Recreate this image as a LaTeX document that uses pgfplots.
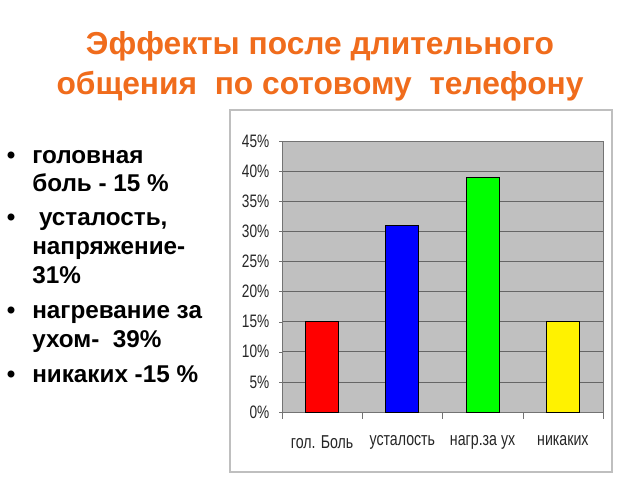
\documentclass[border=0pt]{standalone}
\usepackage{fontspec}
\setmainfont{Liberation Sans}
\newfontfamily\narrow[FakeStretch=0.76]{Liberation Sans}
\usepackage{pgfplots}
\pgfplotsset{compat=1.18}
\definecolor{titleorange}{RGB}{240,108,28}
\definecolor{plotgrey}{RGB}{192,192,192}
\begin{document}
\begin{tikzpicture}
\path[fill=white] (0,0) rectangle (480pt,-360pt);
% chart box
\draw[draw=black!25, line width=0.8pt, fill=white] (172.5pt,-82.5pt) rectangle (459pt,-354pt);
% title
\node[anchor=base, text=titleorange, font=\bfseries\fontsize{23.8}{28}\selectfont] at (240pt,-41pt) {Эффекты после длительного};
\node[anchor=base, text=titleorange, font=\bfseries\fontsize{23.8}{28}\selectfont] at (240pt,-71pt) {общения\ \ по сотовому\ \ телефону};
% bullets
\begin{scope}[every node/.style={anchor=base west, inner sep=0pt, font=\bfseries\fontsize{18.2}{21}\selectfont}]
\node at (24pt,-122.25pt) {головная};
\node at (24pt,-143.25pt) {боль - 15 \%};
\node at (24pt,-168.75pt) {\ усталость,};
\node at (24pt,-190.5pt) {напряжение-};
\node at (24pt,-212.25pt) {31\%};
\node at (24pt,-238.5pt) {нагревание за};
\node at (24pt,-260.25pt) {ухом-\ \ 39\%};
\node at (24pt,-286.5pt) {никаких -15 \%};
\node at (5pt,-122.25pt) {•};
\node at (5pt,-168.75pt) {•};
\node at (5pt,-238.5pt) {•};
\node at (5pt,-286.5pt) {•};
\end{scope}
\begin{axis}[
  at={(211.5pt,-309pt)}, anchor=south west,
  width=240.75pt, height=203.25pt, scale only axis,
  ybar, bar width=24.75pt, bar shift=0pt,
  xmin=-0.5, xmax=3.5, ymin=0, ymax=45,
  axis background/.style={fill=plotgrey},
  axis line style={draw=black!55},
  xtick={0,1,2,3},
  xticklabels={гол. Боль, усталость, нагр.за ух, никаких},
  minor xtick={-0.5,0.5,1.5,2.5,3.5},
  major x tick style={draw=none},
  minor x tick style={draw=black!55},
  minor tick length=5pt,
  ytick={0,5,...,45},
  yticklabel={\pgfmathprintnumber{\tick}\%},
  /pgf/number format/assume math mode=true,
  y tick label style={font=\narrow\fontsize{13.5}{15}\selectfont, text=black!85, xshift=-4pt},
  x tick label style={font=\narrow\fontsize{14}{16}\selectfont, text=black!85, yshift=-12pt},
  major y tick style={draw=black!55},
  major tick length=2pt,
  tick align=outside,
  xtick pos=bottom, ytick pos=left,
  ymajorgrids, grid style={draw=black!60, line width=0.5pt},
]
\addplot[fill=red, draw=black, line width=0.6pt] coordinates {(0,15)};
\addplot[fill=blue, draw=black, line width=0.6pt] coordinates {(1,31)};
\addplot[fill={rgb,255:red,0;green,255;blue,0}, draw=black, line width=0.6pt] coordinates {(2,39)};
\addplot[fill=yellow, draw=black, line width=0.6pt] coordinates {(3,15)};
\end{axis}
\end{tikzpicture}
\end{document}
